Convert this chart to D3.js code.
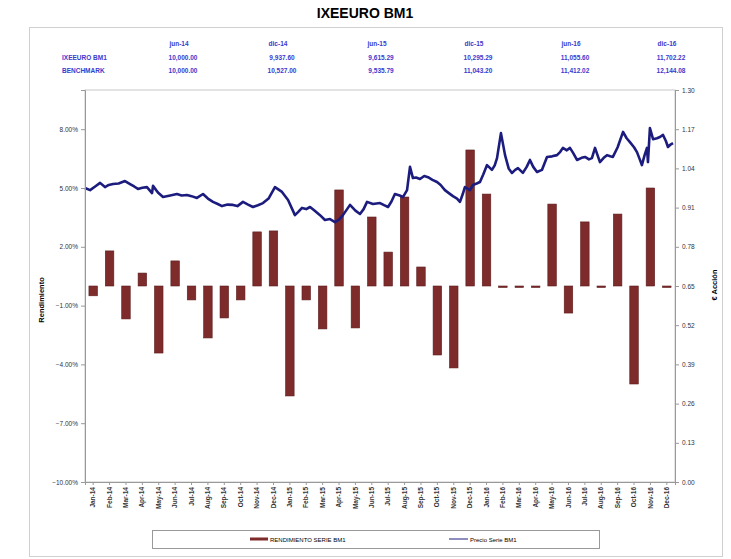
<!DOCTYPE html>
<html>
<head>
<meta charset="utf-8">
<script src="https://cdn.jsdelivr.net/npm/d3@7"></script>
<style>
body { margin: 0; background: #fff; }
text { font-family: "Liberation Sans", Arial, sans-serif; }
</style>
</head>
<body>
<div id="chart"></div>
<script>
// categories (monthly)
var months = ["Jan-14","Feb-14","Mar-14","Apr-14","May-14","Jun-14","Jul-14","Aug-14","Sep-14","Oct-14","Nov-14","Dec-14",
              "Jan-15","Feb-15","Mar-15","Apr-15","May-15","Jun-15","Jul-15","Aug-15","Sep-15","Oct-15","Nov-15","Dec-15",
              "Jan-16","Feb-16","Mar-16","Apr-16","May-16","Jun-16","Jul-16","Aug-16","Sep-16","Oct-16","Nov-16","Dec-16"];

// monthly return, in %
var rendimiento = [-0.50, 1.79, -1.68, 0.66, -3.42, 1.28, -0.71, -2.65, -1.63, -0.71, 2.76, 2.81,
                   -5.61, -0.71, -2.19, 4.90, -2.14, 3.52, 1.73, 4.54, 0.97, -3.52, -4.18, 6.94,
                   4.69, -0.06, -0.06, -0.06, 4.18, -1.38, 3.27, -0.06, 3.67, -5.00, 5.00, -0.06];

// price series: position in months from start, value in €
var precioT = [0, 0.31, 0.62, 0.92, 1.22, 1.45, 1.71, 2.05, 2.44, 2.75, 3.0, 3.23, 3.5, 3.78, 4.09, 4.15, 4.45, 4.76, 5.2, 5.61,
               5.9, 6.22, 6.5, 6.83, 7.2, 7.5, 7.81, 8.1, 8.36, 8.7, 9.03, 9.3, 9.64, 9.95, 10.25, 10.55, 10.86, 11.2, 11.59,
               12.02, 12.39, 12.81, 13.0, 13.24, 13.5, 13.73, 14.0, 14.34, 14.64, 14.95, 15.25, 15.5, 15.74, 16.17, 16.5,
               16.78, 17.0, 17.21, 17.57, 18.0, 18.25, 18.49, 18.7, 18.91, 19.2, 19.4, 19.65, 19.83, 20.01, 20.2, 20.44,
               20.7, 20.93, 21.2, 21.48, 21.7, 21.96, 22.2, 22.45, 22.7, 22.88, 23.05, 23.18, 23.49, 23.67, 23.9, 24.1,
               24.3, 24.53, 24.83, 25.0, 25.14, 25.38, 25.63, 25.85, 26.05, 26.25, 26.42, 26.72, 26.95, 27.15, 27.35,
               27.58, 27.88, 28.19, 28.5, 28.8, 29.0, 29.16, 29.4, 29.59, 29.8, 30.02, 30.3, 30.51, 30.75, 30.93, 31.12,
               31.42, 31.65, 31.85, 32.05, 32.21, 32.5, 32.83, 33.05, 33.25, 33.5, 33.68, 33.85, 33.98, 34.15, 34.29, 34.35,
               34.47, 34.66, 34.9, 35.08, 35.27, 35.45, 35.57, 35.75, 35.88];
var precioV = [0.975, 0.968, 0.980, 0.992, 0.978, 0.985, 0.988, 0.990, 0.998, 0.988, 0.980, 0.972, 0.976, 0.978, 0.958, 0.982,
               0.960, 0.945, 0.950, 0.955, 0.950, 0.952, 0.948, 0.942, 0.955, 0.940, 0.929, 0.922, 0.915, 0.920, 0.919, 0.915,
               0.929, 0.920, 0.912, 0.918, 0.925, 0.940, 0.978, 0.962, 0.935, 0.885, 0.895, 0.909, 0.905, 0.912, 0.900,
               0.885, 0.869, 0.872, 0.862, 0.870, 0.885, 0.919, 0.900, 0.889, 0.905, 0.929, 0.922, 0.925, 0.918, 0.912,
               0.930, 0.955, 0.950, 0.945, 0.968, 1.045, 1.008, 1.010, 1.005, 1.015, 1.011, 1.002, 0.995, 0.985, 0.968,
               0.958, 0.948, 0.940, 0.929, 0.955, 0.978, 0.968, 0.985, 0.990, 0.995, 1.020, 1.051, 1.035, 1.050, 1.074,
               1.157, 1.084, 1.040, 1.025, 1.035, 1.041, 1.025, 1.045, 1.068, 1.045, 1.028, 1.035, 1.078, 1.080, 1.084,
               1.095, 1.108, 1.100, 1.108, 1.090, 1.068, 1.075, 1.078, 1.070, 1.074, 1.108, 1.061, 1.075, 1.084, 1.080,
               1.078, 1.110, 1.161, 1.140, 1.127, 1.110, 1.094, 1.070, 1.051, 1.085, 1.108, 1.061, 1.174, 1.137, 1.140,
               1.144, 1.151, 1.130, 1.111, 1.120, 1.124];

// axis ticks
var leftTicks = [-0.10, -0.07, -0.04, -0.01, 0.02, 0.05, 0.08];
var rightTicks = [0, 0.13, 0.26, 0.39, 0.52, 0.65, 0.78, 0.91, 1.04, 1.17, 1.30];

// summary table
var tableDates = ["jun-14", "dic-14", "jun-15", "dic-15", "jun-16", "dic-16"];
var tableRows = ["IXEEURO BM1", "BENCHMARK"];
var serieBM1 = ["10,000.00", "9,937.60", "9,615.29", "10,295.29", "11,055.60", "11,702.22"];
var benchmark = ["10,000.00", "10,527.00", "9,535.79", "11,043.20", "11,412.02", "12,144.08"];

function drawChart() {

    var W = 731, H = 559;
    var pLeft = 85, pRight = 675, pTop = 90, pBottom = 482; //plot area

    var svg = d3.select("#chart").append("svg")
        .attr("width", W)
        .attr("height", H);

    // outer frame
    svg.append("rect")
        .attr("x", 29.5).attr("y", 27.5)
        .attr("width", 693).attr("height", 529)
        .attr("fill", "none")
        .attr("stroke", "#d0d0d0");

    svg.append("text")
        .attr("x", 365).attr("y", 18)
        .attr("text-anchor", "middle")
        .attr("font-size", "14px")
        .attr("font-weight", "bold")
        .text("IXEEURO BM1");

    // table
    var colX = [181, 280, 379, 476, 573, 669];
    var blue = "#3a3acf";
    tableDates.forEach(function(d, i) {
        svg.append("text").attr("x", colX[i] - 2).attr("y", 46)
            .attr("text-anchor", "middle").attr("font-size", "6.5px").attr("font-weight", "bold")
            .attr("fill", blue).text(d);
        svg.append("text").attr("x", colX[i] + 2).attr("y", 60)
            .attr("text-anchor", "middle").attr("font-size", "6.5px").attr("font-weight", "bold")
            .attr("fill", blue).text(serieBM1[i]);
        svg.append("text").attr("x", colX[i] + 2).attr("y", 73)
            .attr("text-anchor", "middle").attr("font-size", "6.5px").attr("font-weight", "bold")
            .attr("fill", blue).text(benchmark[i]);
    });
    tableRows.forEach(function(d, i) {
        svg.append("text").attr("x", 62).attr("y", 60 + i * 13)
            .attr("font-size", "6.5px").attr("font-weight", "bold")
            .attr("fill", blue).text(d);
    });

    // scales
    var x = d3.scaleBand().domain(months).range([pLeft, pRight]).paddingInner(0.48).paddingOuter(0.24);
    var xt = d3.scaleLinear().domain([0, 36]).range([pLeft, pRight]);
    var yL = d3.scaleLinear().domain([-0.10, 0.10]).range([pBottom, pTop]);
    var yR = d3.scaleLinear().domain([0, 1.30]).range([pBottom, pTop]);

    // plot box
    svg.append("rect")
        .attr("x", pLeft).attr("y", pTop)
        .attr("width", pRight - pLeft).attr("height", pBottom - pTop)
        .attr("fill", "none").attr("stroke", "#c8c8c8");

    // bars
    svg.selectAll(".bar")
        .data(rendimiento)
        .enter()
        .append("rect")
        .attr("class", "bar")
        .attr("x", function(d, i) { return x(months[i]); })
        .attr("width", x.bandwidth())
        .attr("y", function(d) { return yL(Math.max(0, d / 100)); })
        .attr("height", function(d) { return Math.max(1.5, Math.abs(yL(d / 100) - yL(0))); })
        .attr("fill", "#7e2b2b")
        .attr("stroke", "#5e1d1d")
        .attr("stroke-width", 0.6);

    // price line
    var line = d3.line()
        .x(function(d, i) { return xt(precioT[i]); })
        .y(function(d) { return yR(d); });

    svg.append("path")
        .datum(precioV)
        .attr("d", line)
        .attr("fill", "none")
        .attr("stroke", "#1c1c7e")
        .attr("stroke-width", 2.6)
        .attr("stroke-linejoin", "round");

    // axes
    var axL = svg.append("g")
        .attr("transform", "translate(" + pLeft + ",0)")
        .call(d3.axisLeft(yL).tickValues(leftTicks).tickSize(4)
            .tickFormat(function(d) { return d3.format(".2f")(d * 100) + "%"; }));
    var axR = svg.append("g")
        .attr("transform", "translate(" + pRight + ",0)")
        .call(d3.axisRight(yR).tickValues(rightTicks).tickSize(4).tickFormat(d3.format(".2f")));
    var axB = svg.append("g")
        .attr("transform", "translate(0," + pBottom + ")")
        .call(d3.axisBottom(x).tickSize(3));

    [axL, axR, axB].forEach(function(g) {
        g.select(".domain").attr("stroke", "#999");
        g.selectAll(".tick line").attr("stroke", "#999");
        g.selectAll("text").attr("font-size", "6.5px").attr("fill", "#333")
            .attr("font-family", "Liberation Sans, Arial, sans-serif");
    });
    axB.selectAll("text")
        .attr("font-weight", "bold")
        .attr("transform", "rotate(-90)")
        .attr("text-anchor", "end")
        .attr("x", -5).attr("y", 0).attr("dy", "0.32em");

    // axis titles
    svg.append("text")
        .attr("transform", "translate(44,300) rotate(-90)")
        .attr("text-anchor", "middle")
        .attr("font-size", "7.5px").attr("font-weight", "bold")
        .text("Rendimiento");
    svg.append("text")
        .attr("transform", "translate(717,285) rotate(-90)")
        .attr("text-anchor", "middle")
        .attr("font-size", "7.5px").attr("font-weight", "bold")
        .text("€ Acción");

    // legend
    svg.append("rect")
        .attr("x", 152.5).attr("y", 530.5)
        .attr("width", 447).attr("height", 18)
        .attr("fill", "#fff").attr("stroke", "#999");
    svg.append("rect")
        .attr("x", 250).attr("y", 537.5)
        .attr("width", 18).attr("height", 3)
        .attr("fill", "#7e2b2b");
    svg.append("text")
        .attr("x", 270).attr("y", 541.5)
        .attr("font-size", "6px")
        .text("RENDIMIENTO SERIE BM1");
    svg.append("line")
        .attr("x1", 449).attr("x2", 468)
        .attr("y1", 539).attr("y2", 539)
        .attr("stroke", "#1c1c7e").attr("stroke-width", 1);
    svg.append("text")
        .attr("x", 470).attr("y", 541.5)
        .attr("font-size", "6px")
        .text("Precio Serie BM1");
}

drawChart();
</script>
</body>
</html>
